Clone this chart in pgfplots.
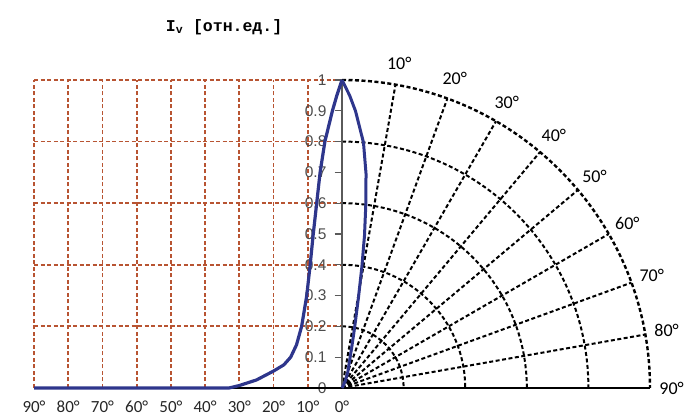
\documentclass[border=0pt]{standalone}
\usepackage{pgfplots}
\pgfplotsset{compat=1.18}
\usepackage{pgfplotstable}
\usepackage{fontspec}
\setmainfont{Carlito}
\newfontfamily\monofont{Liberation Mono}
\newfontfamily\tickfont{Liberation Sans}
\definecolor{curve}{RGB}{46,54,140}
\definecolor{gridbrown}{RGB}{184,84,50}
\definecolor{axgray}{RGB}{90,90,90}
\pgfplotstableread{
a I
0 1.00
1.5 0.95
2.8 0.90
5.0 0.80
6.4 0.70
7.4 0.60
8.4 0.50
9.3 0.40
10.3 0.30
11.8 0.20
13.3 0.14
15.0 0.10
17.0 0.075
20.0 0.055
25.0 0.026
30.0 0.008
33.0 0.0
90.0 0.0
}\datatable
\begin{document}
\begin{tikzpicture}
\begin{axis}[x=308pt,y=308pt,xmin=-1,xmax=1,ymin=0,ymax=1,hide axis,clip=false]
% left brown grid
\pgfplotsinvokeforeach{1,2,3,4,5,6,7,8,9}{
  \draw[gridbrown,line width=1.8pt,dash pattern=on 4pt off 2.5pt] (axis cs:-#1/9,0) -- (axis cs:-#1/9,1);
}
\pgfplotsinvokeforeach{0.2,0.4,0.6,0.8,1}{
  \draw[gridbrown,line width=1.8pt,dash pattern=on 4pt off 2.5pt] (axis cs:-1,#1) -- (axis cs:0,#1);
}
% polar grid
\pgfplotsinvokeforeach{10,20,30,40,50,60,70,80}{
  \draw[black,line width=2pt,dash pattern=on 4pt off 2.5pt] (axis cs:0,0) -- (axis cs:{sin(#1)},{cos(#1)});
}
\pgfplotsinvokeforeach{0.2,0.4,0.6,0.8}{
  \draw[black,line width=2pt,dash pattern=on 4pt off 2.5pt] (axis cs:0,#1) arc[start angle=90,end angle=0,radius=#1*308pt];
}
\draw[black,line width=2.4pt,dash pattern=on 4pt off 2.5pt] (axis cs:0,1) arc[start angle=90,end angle=0,radius=308pt];
% polar labels
\pgfplotsinvokeforeach{10,20,30,40,50,60,70,80,90}{
  \node[font=\fontsize{18}{20}\selectfont,inner sep=0pt] at (axis cs:{1.07*sin(#1)},{1.07*cos(#1)}) {#1°};
}
% bottom labels
\pgfplotsinvokeforeach{0,10,20,30,40,50,60,70,80,90}{
  \node[font=\fontsize{17}{19}\selectfont,text=black!85,inner sep=0pt] at (axis cs:-#1/90,-0.060) {#1°};
}
% y axis
\draw[axgray,line width=1.5pt] (axis cs:0,0) -- (axis cs:0,1);
\pgfplotsinvokeforeach{0,0.1,0.2,0.3,0.4,0.5,0.6,0.7,0.8,0.9,1}{
  \draw[axgray,line width=1.3pt] (axis cs:-0.024,#1) -- (axis cs:0,#1);
  \node[anchor=east,font=\tickfont\fontsize{15.5}{17}\selectfont,text=black!70,inner sep=0pt] at (axis cs:-0.05,#1) {#1};
}
% bottom axis
\draw[black,line width=2.8pt] (axis cs:-1,0) -- (axis cs:1,0);
% curves
\addplot[curve,line width=3.2pt,line join=round,no markers] table[x expr=-\thisrow{a}/90, y=I] {\datatable};
\addplot[curve,line width=3pt,line join=round,no markers] table[x expr={\thisrow{I}*sin(\thisrow{a})}, y expr={\thisrow{I}*cos(\thisrow{a})}] {\datatable};
% title
\node[font=\monofont\bfseries\fontsize{16.5}{18}\selectfont] at (axis cs:-0.383,1.172) {I\textsubscript{v} [отн.ед.]};
\coordinate (bl) at (axis cs:-1.1104,-0.0877);
\coordinate (tr) at (axis cs:1.1299,1.2597);
\end{axis}
\pgfresetboundingbox
\useasboundingbox (bl) rectangle (tr);
\end{tikzpicture}
\end{document}
